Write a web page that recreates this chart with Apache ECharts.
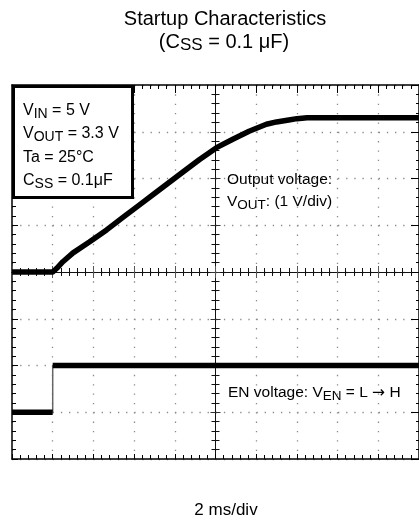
<!DOCTYPE html>
<html>
<head>
<meta charset="utf-8">
<script src="https://cdn.jsdelivr.net/npm/echarts@6/dist/echarts.min.js"></script>
<style>
  html, body { margin: 0; padding: 0; background: #fff; }
  #chart { width: 419px; height: 522px; }
</style>
</head>
<body>
<div id="chart"></div>
<script>
// Output voltage trace (1 V/div), time in ms (2 ms/div, 10 divisions)
const voutTimeMs = [0, 2.0, 2.2, 2.5, 3.0, 3.8, 4.65, 5.45, 6.25, 7.1, 8.4, 9.2, 10.05, 10.85, 11.65, 12.5, 13.0, 13.6, 14.0, 14.5, 20];
const voutVolt   = [0, 0,   0.08, 0.22, 0.41, 0.64, 0.90, 1.17, 1.43, 1.71, 2.14, 2.40, 2.66, 2.84, 3.01, 3.16, 3.21, 3.25, 3.28, 3.3, 3.3];

// EN input: steps from L to H
const enTimeMs = [0, 2, 20];     // start, rising edge, end
const enVolt   = [0, 5];         // L level, H level

// Screen: 10 horizontal divisions, 8 vertical divisions
const timeRange = [0, 20];
const voutRange = [-4, 4];       // 1 V/div, 0 V on the centre line
const enRange   = [-5, 35];      // 5 V/div, 0 V three divisions below centre

const FONT = 'Liberation Sans, Arial, sans-serif';

const chart = echarts.init(document.getElementById('chart'), null, { renderer: 'canvas' });

const DOT = '#8a8a8a';
const noLabel = { show: false };

function xAxisBase(extra) {
  return Object.assign({
    type: 'value', min: timeRange[0], max: timeRange[1], interval: 2,
    axisLabel: noLabel, splitLine: { show: false }
  }, extra);
}
function yAxisBase(extra) {
  return Object.assign({
    type: 'value', min: voutRange[0], max: voutRange[1], interval: 1,
    axisLabel: noLabel, splitLine: { show: false }
  }, extra);
}

const voutData = voutTimeMs.map((t, i) => [t, voutVolt[i]]);
const enStep = [[enTimeMs[0], enVolt[0]], [enTimeMs[1], enVolt[0]], [enTimeMs[1], enVolt[1]], [enTimeMs[2], enVolt[1]]];
const enLowSeg = [[enTimeMs[0], enVolt[0]], [enTimeMs[1], enVolt[0]]];
const enHighSeg = [[enTimeMs[1], enVolt[1]], [enTimeMs[2], enVolt[1]]];

function sub(main, s, rest) {
  return '{m|' + main + '}{s|' + s + '}{m|' + rest + '}';
}
function richSet(size, subSize, lh, drop) {
  return {
    m: { fontSize: size, fontFamily: FONT, lineHeight: lh, color: '#000' },
    s: { fontSize: subSize, fontFamily: FONT, lineHeight: lh - drop, padding: [drop, 0, 0, 0], color: '#000' },
    a: { fontSize: size, fontFamily: 'DejaVu Sans', lineHeight: lh, color: '#000' }
  };
}
const richBox = richSet(16, 14, 20, 6);
const richLabel = richSet(15.5, 13.5, 20, 6);
const richTitle = richSet(20, 17, 23, 6);

const option = {
  backgroundColor: '#fff',
  animation: false,
  grid: { left: 12, top: 85, width: 408, height: 374, containLabel: false },
  xAxis: [
    // bottom border with dotted vertical division lines
    xAxisBase({
      position: 'bottom',
      axisLine: { onZero: false, lineStyle: { color: '#000', width: 1.5 } },
      axisTick: { show: true, inside: true, length: 5, lineStyle: { color: '#000' } },
      minorTick: { show: true, splitNumber: 5, length: 4, lineStyle: { color: '#000' } },
      splitLine: { show: true, lineStyle: { color: DOT, width: 1.3, type: [1.3, 8.05] } }
    }),
    // top border
    xAxisBase({
      position: 'top',
      axisLine: { onZero: false, lineStyle: { color: '#000', width: 1.5 } },
      axisTick: { show: true, inside: true, length: 8, lineStyle: { color: '#000' } },
      minorTick: { show: true, splitNumber: 5, length: 4, lineStyle: { color: '#000' } }
    }),
    // horizontal centre line, ticks below
    xAxisBase({
      position: 'bottom',
      axisLine: { onZero: true, onZeroAxisIndex: 0, lineStyle: { color: '#111', width: 1 } },
      axisTick: { show: true, inside: false, length: 6, lineStyle: { color: '#555' } },
      minorTick: { show: true, splitNumber: 5, length: 4, lineStyle: { color: '#111' } }
    }),
    // horizontal centre line, ticks above
    xAxisBase({
      position: 'bottom',
      axisLine: { onZero: true, onZeroAxisIndex: 0, lineStyle: { color: '#111', width: 1 } },
      axisTick: { show: true, inside: true, length: 6, lineStyle: { color: '#555' } },
      minorTick: { show: true, splitNumber: 5, length: 4, lineStyle: { color: '#111' } }
    }),
    // division scale centred on the screen, anchors the vertical centre line
    { type: 'value', min: -5, max: 5, interval: 1, show: false }
  ],
  yAxis: [
    // left border with dotted horizontal division lines (Vout scale)
    yAxisBase({
      position: 'left',
      axisLine: { onZero: false, lineStyle: { color: '#000', width: 1.5 } },
      axisTick: { show: true, inside: true, length: 6, lineStyle: { color: '#000' } },
      minorTick: { show: true, splitNumber: 5, length: 4, lineStyle: { color: '#000' } },
      splitLine: { show: true, lineStyle: { color: DOT, width: 1.3, type: [1.3, 6.85] } }
    }),
    // EN scale
    { type: 'value', min: enRange[0], max: enRange[1], interval: 5, show: false, axisLine: { onZero: false } },
    // right border
    yAxisBase({
      position: 'right',
      axisLine: { onZero: false, lineStyle: { color: '#000', width: 1.5 } },
      axisTick: { show: true, inside: true, length: 8, lineStyle: { color: '#000' } },
      minorTick: { show: true, splitNumber: 5, length: 3, lineStyle: { color: '#000' } }
    }),
    // vertical centre line, ticks to the left
    yAxisBase({
      position: 'left',
      axisLine: { onZero: true, onZeroAxisIndex: 4, lineStyle: { color: '#111', width: 1 } },
      axisTick: { show: true, inside: false, length: 5, lineStyle: { color: '#333' } },
      minorTick: { show: true, splitNumber: 5, length: 4, lineStyle: { color: '#111' } }
    }),
    // vertical centre line, ticks to the right
    yAxisBase({
      position: 'left',
      axisLine: { onZero: true, onZeroAxisIndex: 4, lineStyle: { color: '#111', width: 1 } },
      axisTick: { show: true, inside: true, length: 5, lineStyle: { color: '#333' } },
      minorTick: { show: true, splitNumber: 5, length: 4, lineStyle: { color: '#111' } }
    })
  ],
  series: [
    {
      name: 'VOUT', type: 'line', xAxisIndex: 0, yAxisIndex: 0,
      data: voutData, showSymbol: false, symbol: 'none', z: 10,
      lineStyle: { color: '#000', width: 5.5, join: 'round' }
    },
    {
      name: 'EN edge', type: 'line', xAxisIndex: 0, yAxisIndex: 1,
      data: enStep, symbol: 'none', z: 9,
      lineStyle: { color: '#666', width: 1.5 }
    },
    {
      name: 'EN low', type: 'line', xAxisIndex: 0, yAxisIndex: 1,
      data: enLowSeg, symbol: 'none', z: 10,
      lineStyle: { color: '#000', width: 5.5, cap: 'butt' }
    },
    {
      name: 'EN high', type: 'line', xAxisIndex: 0, yAxisIndex: 1,
      data: enHighSeg, symbol: 'none', z: 10,
      lineStyle: { color: '#000', width: 5.5, cap: 'butt' }
    }
  ],
  graphic: [
    { type: 'text', x: 225, y: 19, z: 100, style: { text: '{m|Startup Characteristics}', rich: richTitle, align: 'center', verticalAlign: 'middle' } },
    { type: 'text', x: 224, y: 42, z: 100, style: { text: sub('(C', 'SS', ' = 0.1 \u03BCF)'), rich: richTitle, align: 'center', verticalAlign: 'middle' } },
    // conditions box
    {
      type: 'rect', z: 100,
      shape: { x: 13.5, y: 86.5, width: 119, height: 111 },
      style: { fill: '#fff', stroke: '#000', lineWidth: 3 }
    },
    { type: 'text', x: 23, y: 111, z: 101, style: { text: sub('V', 'IN', ' = 5 V'), rich: richBox, verticalAlign: 'middle' } },
    { type: 'text', x: 23, y: 134, z: 101, style: { text: sub('V', 'OUT', ' = 3.3 V'), rich: richBox, verticalAlign: 'middle' } },
    { type: 'text', x: 23, y: 157.5, z: 101, style: { text: '{m|Ta = 25\u00B0C}', rich: richBox, verticalAlign: 'middle' } },
    { type: 'text', x: 23, y: 181, z: 101, style: { text: sub('C', 'SS', ' = 0.1\u03BCF'), rich: richBox, verticalAlign: 'middle' } },
    // trace captions
    { type: 'text', x: 227, y: 180, z: 101, style: { text: '{m|Output voltage:}', rich: richLabel, verticalAlign: 'middle' } },
    { type: 'text', x: 227, y: 202, z: 101, style: { text: sub('V', 'OUT', ': (1 V/div)'), rich: richLabel, verticalAlign: 'middle' } },
    { type: 'text', x: 228, y: 393, z: 101, style: { text: '{m|EN voltage: V}{s|EN}{m| = L }{a|\u2192}{m| H}', rich: richLabel, verticalAlign: 'middle' } },
    { type: 'text', x: 226, y: 510, z: 101, style: { text: '{m|2 ms/div}', rich: richSet(17, 15, 20, 6), align: 'center', verticalAlign: 'middle' } }
  ]
};

chart.setOption(option);
</script>
</body>
</html>
